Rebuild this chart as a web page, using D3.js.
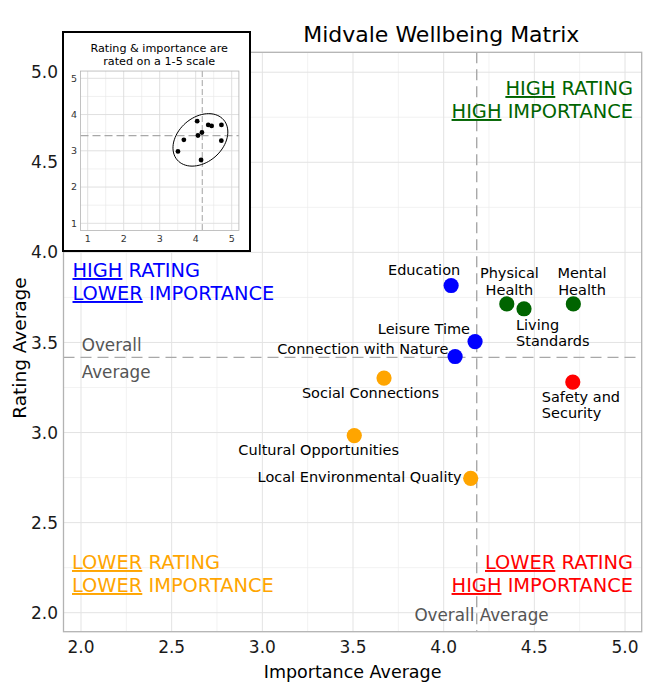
<!DOCTYPE html>
<html><head><meta charset="utf-8">
<script src="https://cdn.jsdelivr.net/npm/d3@7"></script>
<style>
body{margin:0;background:#fff}
svg{display:block}
text{font-family:"DejaVu Sans",sans-serif}
</style>
</head><body>
<svg id="chart" width="650" height="700"></svg>
<script>
// ---------------- DATA ----------------
const items = ["Education","Physical Health","Living Standards","Mental Health","Leisure Time",
  "Connection with Nature","Social Connections","Safety and Security","Cultural Opportunities",
  "Local Environmental Quality"];
const labelText = ["Education","Physical\nHealth","Living\nStandards","Mental\nHealth","Leisure Time",
  "Connection with Nature","Social Connections","Safety and\nSecurity","Cultural Opportunities",
  "Local Environmental Quality"];
const importance = [4.041,4.348,4.443,4.715,4.173,4.063,3.671,4.712,3.507,4.149];
const rating     = [3.816,3.714,3.687,3.714,3.505,3.422,3.302,3.280,2.983,2.746];
const quadrant   = ["HL","HH","HH","HH","HL","HL","LL","LH","LL","LL"];
const xTicks = [2.0,2.5,3.0,3.5,4.0,4.5,5.0];
const yTicks = [2.0,2.5,3.0,3.5,4.0,4.5,5.0];
const xMinor = [2.25,2.75,3.25,3.75,4.25,4.75];
const yMinor = [2.25,2.75,3.25,3.75,4.25,4.75];
const insetTicks = [1,2,3,4,5];
const insetMinor = [1.5,2.5,3.5,4.5];
const quadText = {
  HH:[["HIGH"," RATING"],["HIGH"," IMPORTANCE"]],
  HL:[["HIGH"," RATING"],["LOWER"," IMPORTANCE"]],
  LL:[["LOWER"," RATING"],["LOWER"," IMPORTANCE"]],
  LH:[["LOWER"," RATING"],["HIGH"," IMPORTANCE"]]
};

// ---------------- STYLE / LAYOUT ----------------
const colors = {HH:"#006400", HL:"#0000FF", LL:"#FFA500", LH:"#FF0000"};
const quadPos = {
  HH:{x:633, y:95,  anchor:"end"},
  HL:{x:72.5,y:277, anchor:"start"},
  LL:{x:72,  y:569, anchor:"start"},
  LH:{x:633, y:569, anchor:"end"}
};
const labelLayout = [
  {a:"middle",dx:-27,  dy:-10.5},
  {a:"middle",dx:2.6,  dy:-25.4},
  {a:"start", dx:-8,   dy:21.3},
  {a:"middle",dx:8.7,  dy:-25.4},
  {a:"end",   dx:-5,   dy:-7.4},
  {a:"end",   dx:-6.7, dy:-2.4},
  {a:"middle",dx:-13.5,dy:19.7},
  {a:"start", dx:-31,  dy:19.7},
  {a:"middle",dx:-35.6,dy:19.6},
  {a:"end",   dx:-9,   dy:3.7}
];

const svg = d3.select("#chart");
const P = {l:63.5, r:641.7, t:52.3, b:631.7};
const x = d3.scaleLinear().domain([1.9035,5.092]).range([P.l,P.r]);
const y = d3.scaleLinear().domain([1.8945,5.1105]).range([P.b,P.t]);

const data = items.map((d,i)=>({name:d, label:labelText[i], imp:importance[i], rat:rating[i], q:quadrant[i], lay:labelLayout[i]}));
const meanImp = d3.mean(importance), meanRat = d3.mean(rating);

// panel background + grid
svg.append("rect").attr("x",P.l).attr("y",P.t).attr("width",P.r-P.l).attr("height",P.b-P.t).attr("fill","#fff");
const grid = svg.append("g");
grid.selectAll(".mx").data(xMinor).join("line").attr("x1",d=>x(d)).attr("x2",d=>x(d)).attr("y1",P.t).attr("y2",P.b).attr("stroke","#ececec").attr("stroke-width",0.7);
grid.selectAll(".my").data(yMinor).join("line").attr("y1",d=>y(d)).attr("y2",d=>y(d)).attr("x1",P.l).attr("x2",P.r).attr("stroke","#ececec").attr("stroke-width",0.7);
grid.selectAll(".Mx").data(xTicks).join("line").attr("x1",d=>x(d)).attr("x2",d=>x(d)).attr("y1",P.t).attr("y2",P.b).attr("stroke","#e3e3e3").attr("stroke-width",1);
grid.selectAll(".My").data(yTicks).join("line").attr("y1",d=>y(d)).attr("y2",d=>y(d)).attr("x1",P.l).attr("x2",P.r).attr("stroke","#e3e3e3").attr("stroke-width",1);

// mean lines
svg.append("line").attr("x1",x(meanImp)).attr("x2",x(meanImp)).attr("y1",P.t).attr("y2",P.b)
  .attr("stroke","#a8a8a8").attr("stroke-width",1.4).attr("stroke-dasharray","11,6");
svg.append("line").attr("y1",y(meanRat)).attr("y2",y(meanRat)).attr("x1",P.l).attr("x2",P.r)
  .attr("stroke","#a8a8a8").attr("stroke-width",1.4).attr("stroke-dasharray","11,6");

// panel border
svg.append("rect").attr("x",P.l).attr("y",P.t).attr("width",P.r-P.l).attr("height",P.b-P.t)
  .attr("fill","none").attr("stroke","#b3b3b3").attr("stroke-width",1.3);

// axes tick labels
svg.append("g").selectAll("text").data(xTicks).join("text")
  .attr("x",d=>x(d)).attr("y",652.5).attr("text-anchor","middle").attr("font-size",17).attr("fill","#1a1a1a")
  .text(d=>d3.format(".1f")(d));
svg.append("g").selectAll("text").data(yTicks).join("text")
  .attr("x",58).attr("y",d=>y(d)).attr("dy","0.36em").attr("text-anchor","end").attr("font-size",17).attr("fill","#1a1a1a")
  .text(d=>d3.format(".1f")(d));
svg.append("text").attr("x",(P.l+P.r)/2).attr("y",678).attr("text-anchor","middle").attr("font-size",17.5).attr("fill","#000").text("Importance Average");
svg.append("text").attr("transform",`translate(25.5,348) rotate(-90)`).attr("text-anchor","middle").attr("font-size",18.5).attr("fill","#000").text("Rating Average");

// overall average annotations
svg.append("text").attr("x",81.7).attr("y",350.7).attr("font-size",16.8).attr("fill","#555").text("Overall");
svg.append("text").attr("x",81.7).attr("y",378.3).attr("font-size",16.8).attr("fill","#555").text("Average");
svg.append("text").attr("x",481.5).attr("y",621).attr("text-anchor","middle").attr("font-size",16.8).attr("fill","#555").text("Overall Average");

// quadrant labels
Object.keys(quadText).forEach(k=>{
  const p = quadPos[k];
  quadText[k].forEach((line,li)=>{
    const t = svg.append("text").attr("x",p.x).attr("y",p.y+li*23).attr("text-anchor",p.anchor)
      .attr("font-size",19.4).attr("fill",colors[k]);
    t.append("tspan").attr("text-decoration","underline").text(line[0]);
    t.append("tspan").text(line[1]);
  });
});

// points
svg.append("g").selectAll("circle").data(data).join("circle")
  .attr("cx",d=>x(d.imp)).attr("cy",d=>y(d.rat)).attr("r",7.6).attr("fill",d=>colors[d.q]);

// point labels
const lg = svg.append("g");
data.forEach(d=>{
  const t = lg.append("text").attr("x",x(d.imp)+d.lay.dx).attr("y",y(d.rat)+d.lay.dy)
    .attr("text-anchor",d.lay.a).attr("font-size",14.5).attr("fill","#000");
  d.label.split("\n").forEach((s,i)=>{
    t.append("tspan").attr("x",x(d.imp)+d.lay.dx).attr("dy",i===0?0:16.3).text(s);
  });
});

// title
svg.append("text").attr("x",441.3).attr("y",42.3).attr("text-anchor","middle").attr("font-size",22).attr("fill","#000").text("Midvale Wellbeing Matrix");

// ---------------- INSET ----------------
const IB = {l:63, t:32, r:250, b:251};
const ig = svg.append("g");
ig.append("rect").attr("x",IB.l).attr("y",IB.t).attr("width",IB.r-IB.l).attr("height",IB.b-IB.t).attr("fill","#fff");
const ix = d3.scaleLinear().domain([0.8,5.2]).range([80.5,238.9]);
const iy = d3.scaleLinear().domain([0.8,5.2]).range([230.55,71.05]);
ig.selectAll(".imx").data(insetMinor).join("line").attr("x1",d=>ix(d)).attr("x2",d=>ix(d)).attr("y1",iy(5.2)).attr("y2",iy(0.8)).attr("stroke","#e6e6e6").attr("stroke-width",0.6);
ig.selectAll(".imy").data(insetMinor).join("line").attr("y1",d=>iy(d)).attr("y2",d=>iy(d)).attr("x1",ix(0.8)).attr("x2",ix(5.2)).attr("stroke","#e6e6e6").attr("stroke-width",0.6);
ig.selectAll(".iMx").data(insetTicks).join("line").attr("x1",d=>ix(d)).attr("x2",d=>ix(d)).attr("y1",iy(5.2)).attr("y2",iy(0.8)).attr("stroke","#dcdcdc").attr("stroke-width",0.9);
ig.selectAll(".iMy").data(insetTicks).join("line").attr("y1",d=>iy(d)).attr("y2",d=>iy(d)).attr("x1",ix(0.8)).attr("x2",ix(5.2)).attr("stroke","#dcdcdc").attr("stroke-width",0.9);
ig.append("line").attr("x1",ix(meanImp)).attr("x2",ix(meanImp)).attr("y1",iy(5.2)).attr("y2",iy(0.8)).attr("stroke","#999").attr("stroke-width",0.9).attr("stroke-dasharray","6,3");
ig.append("line").attr("y1",iy(meanRat)).attr("y2",iy(meanRat)).attr("x1",ix(0.8)).attr("x2",ix(5.2)).attr("stroke","#a8a8a8").attr("stroke-width",1.3).attr("stroke-dasharray","8,4");
ig.append("rect").attr("x",ix(0.8)).attr("y",iy(5.2)).attr("width",ix(5.2)-ix(0.8)).attr("height",iy(0.8)-iy(5.2)).attr("fill","none").attr("stroke","#b3b3b3").attr("stroke-width",0.8);

// enclosing ellipse (Khachiyan iteration, coarse tolerance) of the inset points, expanded
function mvee(P2, tol){
  const N=P2.length, d=2;
  let u=new Array(N).fill(1/N);
  for(let it=0; it<5000; it++){
    const X=[[0,0,0],[0,0,0],[0,0,0]];
    P2.forEach((p,i)=>{const q=[p[0],p[1],1];
      for(let r=0;r<3;r++)for(let c=0;c<3;c++)X[r][c]+=u[i]*q[r]*q[c];});
    const Xi=inv3(X);
    const M=P2.map(p=>{const q=[p[0],p[1],1]; let s=0;
      for(let r=0;r<3;r++)for(let c=0;c<3;c++)s+=q[r]*Xi[r][c]*q[c]; return s;});
    const j=d3.maxIndex(M), mx=M[j];
    const step=(mx-d-1)/((d+1)*(mx-1));
    const nu=u.map(v=>(1-step)*v); nu[j]+=step;
    const err=Math.sqrt(d3.sum(nu,(v,i)=>(v-u[i])**2));
    u=nu; if(err<tol) break;
  }
  const cx=d3.sum(P2,(p,i)=>u[i]*p[0]), cy=d3.sum(P2,(p,i)=>u[i]*p[1]);
  let a=0,b=0,c=0;
  P2.forEach((p,i)=>{a+=u[i]*p[0]*p[0]; b+=u[i]*p[0]*p[1]; c+=u[i]*p[1]*p[1];});
  a-=cx*cx; b-=cx*cy; c-=cy*cy;
  const det=a*c-b*b;
  let A=[[c/det/d,-b/det/d],[-b/det/d,a/det/d]];
  // make sure every point is enclosed (scale up if not converged)
  const mxv=d3.max(P2,p=>{const dx=p[0]-cx, dy=p[1]-cy; return A[0][0]*dx*dx+2*A[0][1]*dx*dy+A[1][1]*dy*dy;});
  if(mxv>1) A=A.map(r=>r.map(v=>v/mxv));
  return {cx,cy,A};
}
function inv3(m){
  const [a,b,c]=m[0],[d,e,f]=m[1],[g,h,i]=m[2];
  const A=e*i-f*h,B=-(d*i-f*g),C=d*h-e*g,det=a*A+b*B+c*C;
  return [[A/det,-(b*i-c*h)/det,(b*f-c*e)/det],
          [B/det,(a*i-c*g)/det,-(a*f-c*d)/det],
          [C/det,-(a*h-b*g)/det,(a*e-b*d)/det]];
}
const ipts = data.map(d=>[ix(d.imp), iy(d.rat)]);
const E = mvee(ipts, 0.01);
const p=E.A[0][0], q=E.A[0][1], s=E.A[1][1];
const mid=(p+s)/2, rad=Math.sqrt(((p-s)/2)**2+q*q);
const l1=mid+rad, l2=mid-rad;
const th=0.5*Math.atan2(2*q,p-s);
const expand=4.5;
const s1=1/Math.sqrt(l1)+expand, s2=1/Math.sqrt(l2)+expand;
const ell=d3.range(0,72).map(k=>{
  const t=k*2*Math.PI/72, u=s1*Math.cos(t), v=s2*Math.sin(t);
  return [E.cx+u*Math.cos(th)-v*Math.sin(th), E.cy+u*Math.sin(th)+v*Math.cos(th)];
});
ig.append("path").attr("d",d3.line().curve(d3.curveCardinalClosed)(ell))
  .attr("fill","none").attr("stroke","#000").attr("stroke-width",1);
ig.selectAll("circle").data(data).join("circle").attr("cx",d=>ix(d.imp)).attr("cy",d=>iy(d.rat)).attr("r",2.4).attr("fill","#000");

ig.selectAll(".itx").data(insetTicks).join("text").attr("x",d=>ix(d)).attr("y",242).attr("text-anchor","middle")
  .attr("font-size",9.5).attr("fill","#333").text(d=>d);
ig.selectAll(".ity").data(insetTicks).join("text").attr("x",77).attr("y",d=>iy(d)).attr("dy","0.36em").attr("text-anchor","end")
  .attr("font-size",9.5).attr("fill","#333").text(d=>d);
ig.append("text").attr("x",159.2).attr("y",51.7).attr("text-anchor","middle").attr("font-size",11.2).attr("fill","#000").text("Rating & importance are");
ig.append("text").attr("x",159.2).attr("y",65).attr("text-anchor","middle").attr("font-size",11.2).attr("fill","#000").text("rated on a 1-5 scale");
ig.append("rect").attr("x",IB.l).attr("y",IB.t).attr("width",IB.r-IB.l).attr("height",IB.b-IB.t).attr("fill","none").attr("stroke","#000").attr("stroke-width",2);
</script>
</body></html>
